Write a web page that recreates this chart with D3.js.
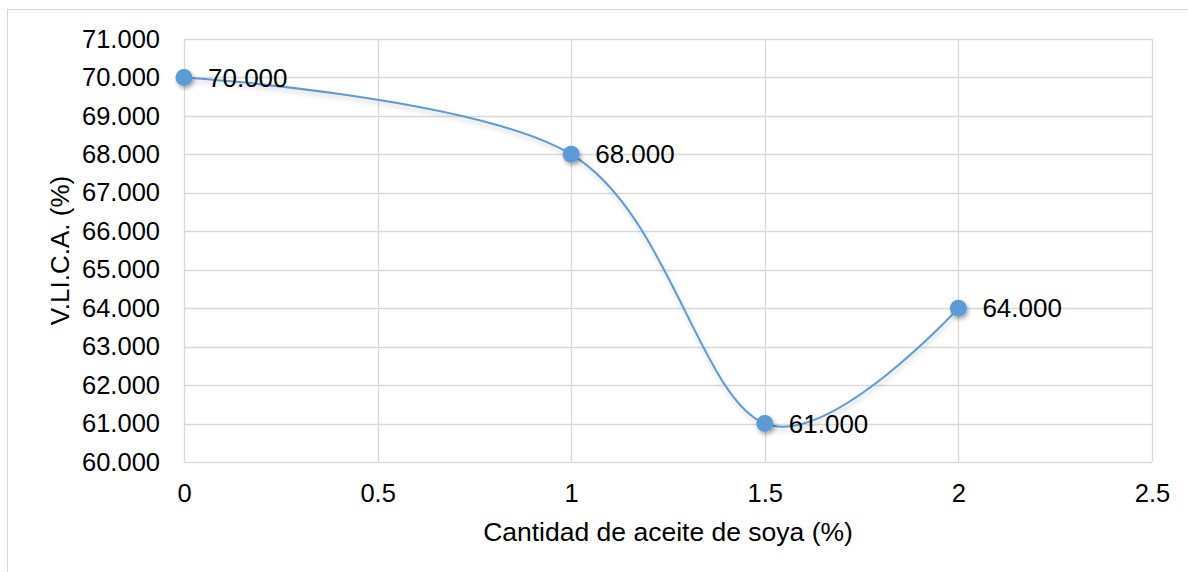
<!DOCTYPE html>
<html><head><meta charset="utf-8">
<script src="https://cdn.jsdelivr.net/npm/d3@7"></script>
<style>body{margin:0;background:#fff;} svg{display:block;font-family:"Liberation Sans",Arial,sans-serif;}</style>
</head><body>
<script>
const xValues = [0, 1, 1.5, 2];
const yValues = [70, 68, 61, 64];
const xTicks = [0, 0.5, 1, 1.5, 2, 2.5];
const yTicks = [60, 61, 62, 63, 64, 65, 66, 67, 68, 69, 70, 71];
const xTitle = "Cantidad de aceite de soya (%)";
const yTitle = "V.LI.C.A. (%)";

const W = 1188, H = 572;
const svg = d3.select("body").append("svg").attr("width", W).attr("height", H);

const defs = svg.append("defs");
const f = defs.append("filter").attr("id","sh").attr("x","-50%").attr("y","-50%").attr("width","200%").attr("height","200%");
f.append("feDropShadow").attr("dx",1.5).attr("dy",2.5).attr("stdDeviation",2.2).attr("flood-color","#000").attr("flood-opacity",0.35);
const f2 = defs.append("filter").attr("id","shl").attr("x","-10%").attr("y","-10%").attr("width","120%").attr("height","120%");
f2.append("feDropShadow").attr("dx",1).attr("dy",3).attr("stdDeviation",2.5).attr("flood-color","#000").attr("flood-opacity",0.2);

svg.append("rect").attr("x",7.5).attr("y",9.5).attr("width",1300).attr("height",700)
  .attr("fill","none").attr("stroke","#d9d9d9").attr("stroke-width",1);

const x = d3.scaleLinear().domain([0, 2.5]).range([184, 1152]);
const y = d3.scaleLinear().domain([60, 71]).range([462, 39]);

const g = svg.append("g");
g.selectAll("line.h").data(yTicks).join("line")
  .attr("x1", x(0)).attr("x2", x(2.5))
  .attr("y1", d => Math.round(y(d)) + 0.5).attr("y2", d => Math.round(y(d)) + 0.5)
  .attr("stroke", "#d9d9d9").attr("stroke-width", 1.3);
g.selectAll("line.v").data(xTicks).join("line")
  .attr("y1", y(60)).attr("y2", y(71))
  .attr("x1", d => Math.round(x(d)) + 0.5).attr("x2", d => Math.round(x(d)) + 0.5)
  .attr("stroke", "#d9d9d9").attr("stroke-width", 1.3);

const yAxis = svg.append("g").attr("transform", `translate(${x(0)},0)`)
  .call(d3.axisLeft(y).tickValues(yTicks).tickFormat(d3.format(".3f")).tickSize(0).tickPadding(24));
const xAxis = svg.append("g").attr("transform", `translate(0,${y(60)})`)
  .call(d3.axisBottom(x).tickValues(xTicks).tickFormat(d => String(d)).tickSize(0).tickPadding(22));
[yAxis, xAxis].forEach(a => {
  a.select(".domain").remove();
  a.selectAll("text").attr("font-size", 25.5).attr("fill", "#000").attr("font-family", "Liberation Sans, Arial, sans-serif");
});
xAxis.selectAll("text").attr("dy", "0.71em");

svg.append("text").attr("x", 668).attr("y", 541).attr("text-anchor", "middle")
  .attr("font-size", 26.5).attr("fill", "#000").text(xTitle);
svg.append("text").attr("transform", `translate(69,${(y(60)+y(71))/2}) rotate(-90)`).attr("text-anchor", "middle")
  .attr("font-size", 26).attr("fill", "#000").text(yTitle);

const data = xValues.map((v, i) => ({x: v, y: yValues[i]}));
const line = d3.line().x(d => x(d.x)).y(d => y(d.y)).curve(d3.curveCardinal.tension(0));
svg.append("path").datum(data).attr("d", line).attr("fill", "none")
  .attr("stroke", "#5b9bd5").attr("stroke-width", 2).attr("filter", "url(#shl)");

svg.selectAll("circle.m").data(data).join("circle")
  .attr("cx", d => x(d.x)).attr("cy", d => y(d.y)).attr("r", 8.5)
  .attr("fill", "#5b9bd5").attr("filter", "url(#sh)");

svg.selectAll("text.lab").data(data).join("text")
  .attr("x", d => x(d.x) + 24).attr("y", d => y(d.y)).attr("dy", "0.35em")
  .attr("font-size", 26).attr("fill", "#000").text(d => d3.format(".3f")(d.y));
</script>
</body></html>
